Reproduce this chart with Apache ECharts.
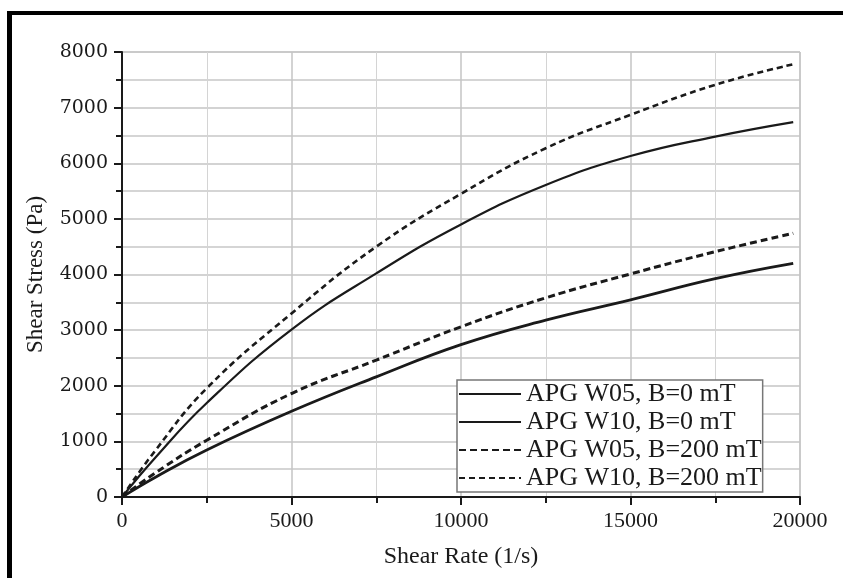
<!DOCTYPE html>
<html>
<head>
<meta charset="utf-8">
<script src="https://cdn.jsdelivr.net/npm/echarts@6/dist/echarts.min.js"></script>
<style>html,body{margin:0;padding:0;background:#fff;}#c{width:843px;height:578px;}</style>
</head>
<body>
<div id="c"></div>
<script>
const shearRate = [0, 1000, 2500, 5000, 7500, 10000, 12500, 15000, 17500, 19800];
const w05_0mT   = [0, 360, 845, 1540, 2160, 2740, 3180, 3545, 3925, 4200];
const w10_0mT   = [0, 720, 1690, 3010, 4020, 4900, 5610, 6130, 6480, 6740];
const w05_200mT = [0, 440, 1020, 1860, 2460, 3060, 3580, 4010, 4410, 4740];
const w10_200mT = [0, 850, 1955, 3300, 4500, 5450, 6270, 6870, 7410, 7780];
const seriesNames = ['APG W05, B=0 mT', 'APG W10, B=0 mT', 'APG W05, B=200 mT', 'APG W10, B=200 mT'];
const xTicks = [0, 5000, 10000, 15000, 20000];
const yTicks = [0, 1000, 2000, 3000, 4000, 5000, 6000, 7000, 8000];

const pair = (ys) => shearRate.map((x, i) => [x, ys[i]]);
const ink = '#1a1a1a';
const serif = 'Liberation Serif';

const chart = echarts.init(document.getElementById('c'));
chart.setOption({
  backgroundColor: '#fff',
  animation: false,
  grid: { left: 122, top: 52, right: 43, bottom: 81, show: true, borderColor: '#b4b4b4', borderWidth: 1 },
  xAxis: {
    type: 'value', min: xTicks[0], max: xTicks[xTicks.length - 1], interval: 5000,
    name: 'Shear Rate (1/s)', nameLocation: 'middle', nameGap: 48,
    nameTextStyle: { fontFamily: serif, fontSize: 24, color: ink },
    axisLine: { show: true, onZero: false, lineStyle: { color: ink, width: 2 } },
    axisTick: { show: true, inside: false, length: 8, lineStyle: { color: ink, width: 2 } },
    minorTick: { show: true, splitNumber: 2, length: 6, lineStyle: { color: ink, width: 2 } },
    axisLabel: { fontFamily: serif, fontSize: 22, color: ink, margin: 13, formatter: (v) => String(v) },
    splitLine: { show: true, lineStyle: { color: '#c4c4c4', width: 1.5 } },
    minorSplitLine: { show: true, lineStyle: { color: '#d4d4d4', width: 1 } }
  },
  yAxis: {
    type: 'value', min: yTicks[0], max: yTicks[yTicks.length - 1], interval: 1000,
    name: 'Shear Stress (Pa)', nameLocation: 'middle', nameGap: 75,
    nameTextStyle: { fontFamily: serif, fontSize: 23, color: ink },
    axisLine: { show: true, onZero: false, lineStyle: { color: ink, width: 2 } },
    axisTick: { show: true, inside: false, length: 8, lineStyle: { color: ink, width: 2 } },
    minorTick: { show: true, splitNumber: 2, length: 6, lineStyle: { color: ink, width: 2 } },
    axisLabel: { fontFamily: 'DejaVu Serif', fontSize: 19, color: ink, margin: 14, formatter: (v) => String(v) },
    splitLine: { show: true, lineStyle: { color: '#c4c4c4', width: 1.5 } },
    minorSplitLine: { show: true, lineStyle: { color: '#c8c8c8', width: 1.5 } }
  },
  legend: {
    orient: 'vertical', left: 457, top: 380,
    padding: [1, 1, 1, 1],
    itemWidth: 62, itemHeight: 14, itemGap: 2,
    itemStyle: { opacity: 0, borderWidth: 0 },
    backgroundColor: '#fff', borderColor: '#777', borderWidth: 1.5,
    textStyle: { fontFamily: serif, fontSize: 26, color: ink, lineHeight: 26 },
    data: seriesNames
  },
  series: [
    { name: seriesNames[0], type: 'line', data: pair(w05_0mT), smooth: 0.45, symbol: 'none',
      lineStyle: { color: ink, width: 2.8, type: 'solid' }, itemStyle: { color: ink } },
    { name: seriesNames[1], type: 'line', data: pair(w10_0mT), smooth: 0.45, symbol: 'none',
      lineStyle: { color: ink, width: 2.2, type: 'solid' }, itemStyle: { color: ink } },
    { name: seriesNames[2], type: 'line', data: pair(w05_200mT), smooth: 0.45, symbol: 'none',
      lineStyle: { color: ink, width: 3, type: [7, 4] }, itemStyle: { color: ink } },
    { name: seriesNames[3], type: 'line', data: pair(w10_200mT), smooth: 0.45, symbol: 'none',
      lineStyle: { color: ink, width: 2.6, type: [6, 4] }, itemStyle: { color: ink } }
  ],
  graphic: [
    { type: 'line', shape: { x1: 7, y1: 13, x2: 843, y2: 13 }, style: { stroke: '#000', lineWidth: 4 } },
    { type: 'line', shape: { x1: 9.5, y1: 11, x2: 9.5, y2: 578 }, style: { stroke: '#000', lineWidth: 5 } }
  ]
});
</script>
</body>
</html>
